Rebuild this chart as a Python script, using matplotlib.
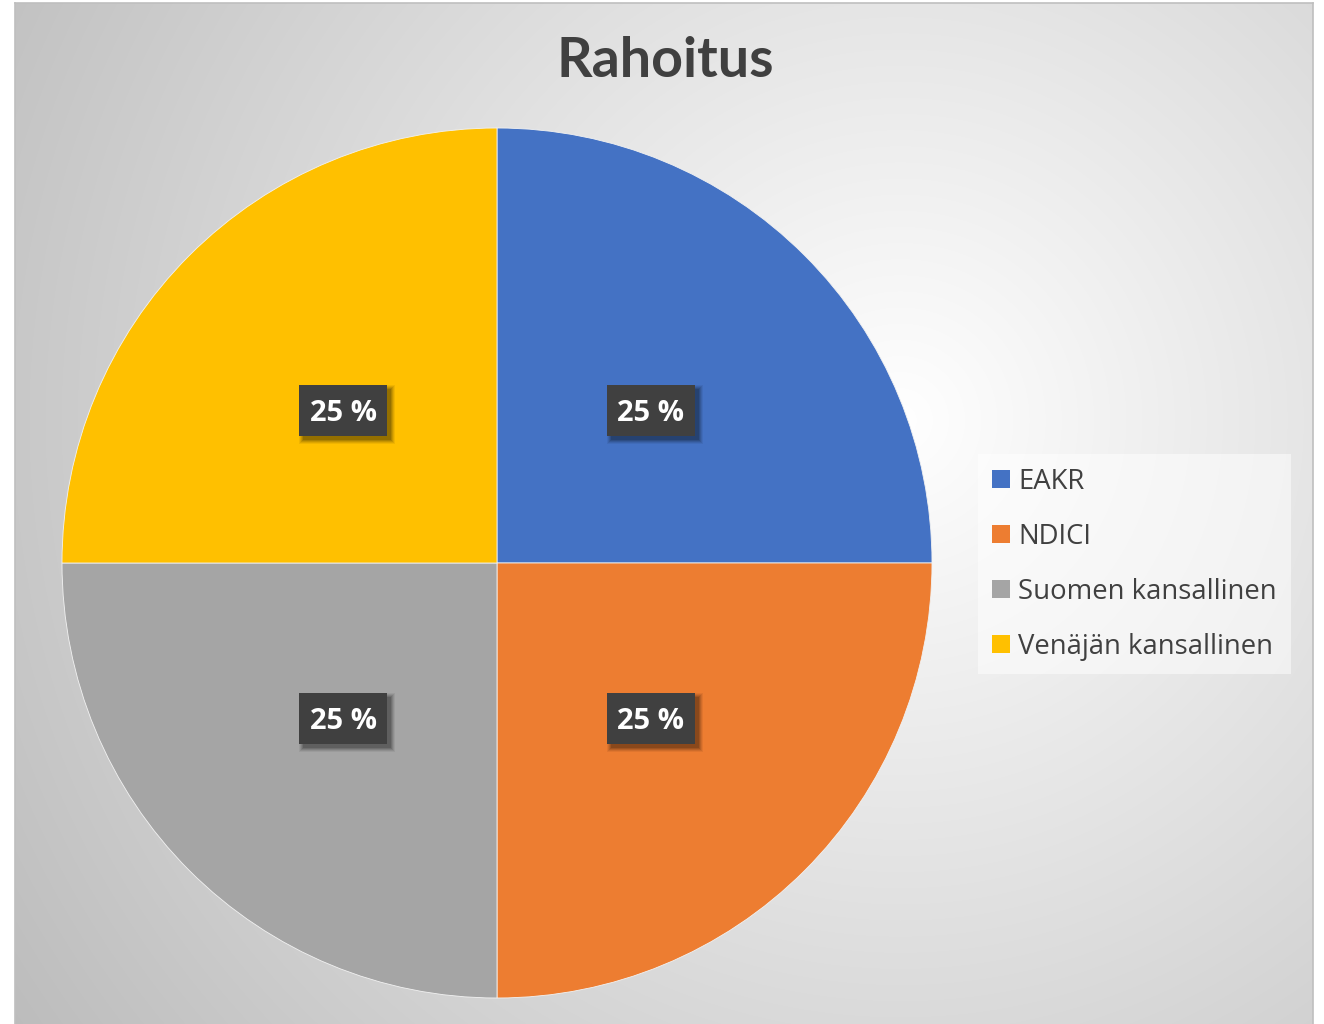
# pie chart of project funding shares (Rahoitus)

import numpy as np
import matplotlib
matplotlib.use('Agg')
import matplotlib.pyplot as plt
from matplotlib.patches import Patch, Rectangle

# data
labels = ['EAKR', 'NDICI', 'Suomen kansallinen', 'Venäjän kansallinen']
shares = [25, 25, 25, 25]
colours = ['#4472C4', '#ED7D31', '#A5A5A5', '#FFC000']
title = 'Rahoitus'

plt.rcParams['font.family'] = ['Open Sans', 'DejaVu Sans']
plt.rcParams['hatch.linewidth'] = 1.6
plt.rcParams['hatch.color'] = '#585858'

W, H = 1324, 1024
fig = plt.figure(figsize = (W / 100, H / 100), dpi = 100, facecolor = 'white')

# chart area with radial grey gradient
bx0, bx1, by0, by1 = 15, 1313, 3, 1024
bg = fig.add_axes([bx0 / W, 1 - by1 / H, (bx1 - bx0) / W, (by1 - by0) / H])
xx, yy = np.meshgrid(np.arange(bx0, bx1), np.arange(by0, by1))
d = np.sqrt((xx - 900) ** 2 + (yy - 420) ** 2) / 1000.0
val = np.clip(255 - 62 * d, 185, 255) / 255.0
bg.imshow(np.dstack([val, val, val]), aspect = 'auto', interpolation = 'bilinear')
bg.set_xticks([])
bg.set_yticks([])
for s in bg.spines.values():
    s.set_color('#BFBFBF')
    s.set_linewidth(1.2)
bg.spines['bottom'].set_visible(False)

# pie
cx, cy, r = 497, 563, 435
ax = fig.add_axes([(cx - r) / W, 1 - (cy + r) / H, 2 * r / W, 2 * r / H])
wedges, texts = ax.pie(shares, colors = colours, startangle = 90, counterclock = False,
                       radius = 1, labels = None,
                       wedgeprops = dict(edgecolor = '#F2F2F2', linewidth = 0.6))
ax.set_xlim(-1, 1)
ax.set_ylim(-1, 1)
ax.set_facecolor('none')

# data labels at half the radius: dark dotted box with soft shadow
px = 2.0 / (2 * r)          # one pixel in data units
bw, bh = 88 * px, 51 * px
cum = 0
for v in shares:
    ang = np.deg2rad(90 - 360 * (cum + v / 2) / sum(shares))
    cum += v
    x, y = 0.5 * np.cos(ang), 0.5 * np.sin(ang) - 1.5 * px
    # blurred shadow, offset down-right
    for k, a in [(4, 0.06), (3, 0.08), (2, 0.10), (1, 0.12), (0, 0.14)]:
        ax.add_patch(Rectangle((x - bw / 2 + 4 * px - k * px, y - bh / 2 - 4 * px - k * px),
                               bw + 2 * k * px, bh + 2 * k * px, facecolor = 'black',
                               edgecolor = 'none', alpha = a, zorder = 3))
    ax.add_patch(Rectangle((x - bw / 2, y - bh / 2), bw, bh, facecolor = '#404040',
                           edgecolor = 'none', hatch = '....', zorder = 4))
    ax.text(x, y - 3 * px, '%d %%' % v, ha = 'center', va = 'center', color = 'white',
            fontsize = 21, fontweight = 'bold', zorder = 5)

# title
fig.text(665 / W, 1 - 61 / H, title, ha = 'center', va = 'center',
         fontsize = 40, fontweight = 'bold', color = '#404040', family = ['Lato', 'DejaVu Sans'])

# legend
handles = [Patch(facecolor = c, edgecolor = 'none') for c in colours]
leg = fig.legend(handles, labels, loc = 'upper left',
                 bbox_to_anchor = (978 / W, 1 - 454 / H),
                 fontsize = 19.8, frameon = True, fancybox = False,
                 handlelength = 0.66, handleheight = 0.66, handletextpad = 0.3,
                 labelspacing = 0.98, borderpad = 0.5, borderaxespad = 0)
leg.get_frame().set_facecolor('white')
leg.get_frame().set_alpha(0.5)
leg.get_frame().set_edgecolor('none')
for tx in leg.get_texts():
    tx.set_color('#404040')

fig.savefig('out.png', dpi = 100, facecolor = 'white')
